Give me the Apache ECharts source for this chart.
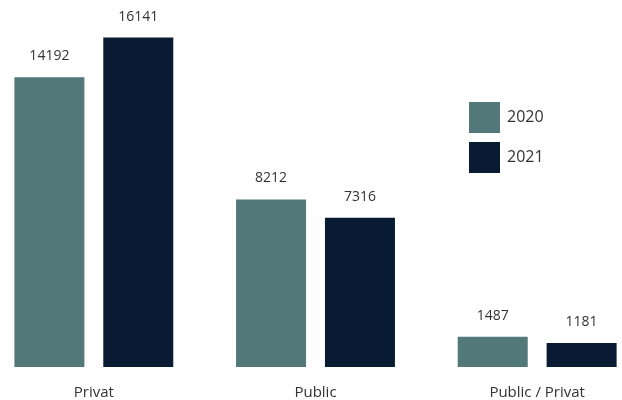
<!DOCTYPE html>
<html><head><meta charset="utf-8">
<script src="https://cdn.jsdelivr.net/npm/echarts@6/dist/echarts.min.js"></script>
<style>html,body{margin:0;padding:0;background:#fff;overflow:hidden;width:622px;height:400px}#c{position:absolute;left:-17px;top:0;width:665px;height:400px}</style>
</head><body><div id="c"></div>
<script>
var categories = ['Privat', 'Public', 'Public / Privat'];
var seriesNames = ['2020', '2021'];
var values2020 = [14192, 8212, 1487];
var values2021 = [16141, 7316, 1181];

var chart = echarts.init(document.getElementById('c'), null, {renderer: 'canvas'});
var font = '"Open Sans", "Noto Sans", sans-serif';
var labelCfg = {show: true, position: 'top', distance: 14, color: '#333', fontSize: 14, fontFamily: font};
chart.setOption({
  animation: false,
  grid: {left: 0, right: 0, top: 20, bottom: 30, containLabel: false},
  legend: {
    orient: 'vertical', left: 481, top: 97, icon: 'rect',
    itemWidth: 31, itemHeight: 31, itemGap: 9,
    textStyle: {fontSize: 16, color: '#333', fontFamily: font, padding: [0, 0, 0, 2]},
    data: seriesNames
  },
  xAxis: {
    type: 'category', data: categories,
    axisLine: {show: false}, axisTick: {show: false},
    axisLabel: {color: '#333', fontSize: 15, fontFamily: font, margin: 18}
  },
  yAxis: {type: 'value', min: 0, max: 17000, show: false, splitLine: {show: false}},
  series: [
    {name: seriesNames[0], type: 'bar', data: values2020, barWidth: 70, barGap: '27%',
     itemStyle: {color: '#53787a'}, label: labelCfg},
    {name: seriesNames[1], type: 'bar', data: values2021, barWidth: 70, barGap: '27%',
     itemStyle: {color: '#081b33'}, label: labelCfg}
  ]
});
</script></body></html>
